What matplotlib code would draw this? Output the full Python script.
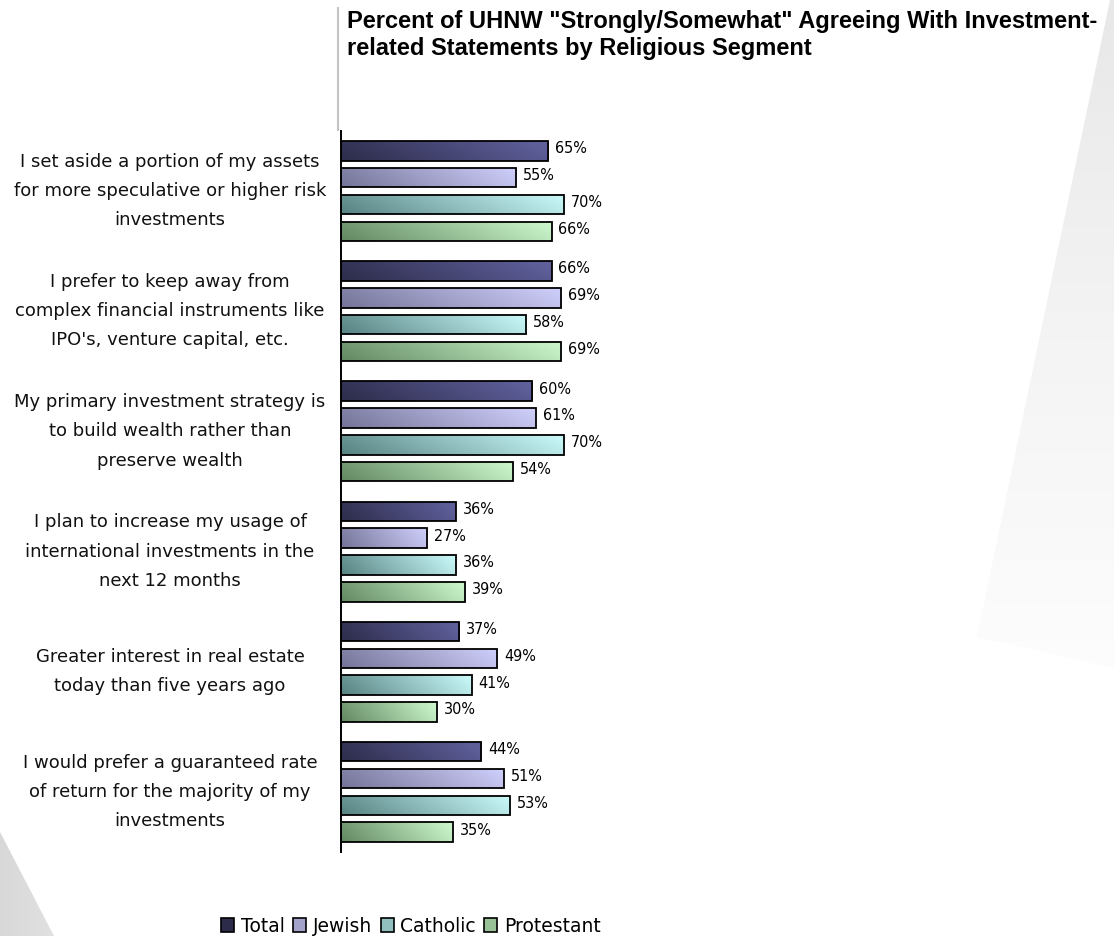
import numpy as np
import matplotlib
matplotlib.use("Agg")
import matplotlib.pyplot as plt
from matplotlib.patches import Rectangle, Polygon, Patch
from matplotlib.colors import LinearSegmentedColormap, to_rgb
from matplotlib import font_manager
import matplotlib.transforms as mtransforms

# ---- data ----
statements = [
    "I set aside a portion of my assets\nfor more speculative or higher risk\ninvestments",
    "I prefer to keep away from\ncomplex financial instruments like\nIPO's, venture capital, etc.",
    "My primary investment strategy is\nto build wealth rather than\npreserve wealth",
    "I plan to increase my usage of\ninternational investments in the\nnext 12 months",
    "Greater interest in real estate\ntoday than five years ago",
    "I would prefer a guaranteed rate\nof return for the majority of my\ninvestments",
]
segments = ["Total", "Jewish", "Catholic", "Protestant"]
total = [65, 66, 60, 36, 37, 44]
jewish = [55, 69, 61, 27, 49, 51]
catholic = [70, 58, 70, 36, 41, 53]
protestant = [66, 69, 54, 39, 30, 35]
series = [total, jewish, catholic, protestant]

title = ('Percent of UHNW "Strongly/Somewhat" Agreeing With Investment-\n'
         'related Statements by Religious Segment')

# gradient end colours (shadow side, lit side) for each segment
grad_colors = [
    ("#2c2c4a", "#6262a0"),
    ("#747498", "#d0d0fd"),
    ("#578282", "#cbfbfb"),
    ("#628862", "#cef9ce"),
]


def bold_sans_props(size):
    """Regular-width bold Liberation Sans (avoid the Narrow cut)."""
    for f in font_manager.fontManager.ttflist:
        if (f.name == "Liberation Sans" and f.weight in (700, "bold")
                and f.style == "normal" and "Narrow" not in f.fname):
            return font_manager.FontProperties(fname=f.fname, size=size)
    return font_manager.FontProperties(family="DejaVu Sans", weight="bold",
                                       size=size * 0.93)


W, H, DPI = 1114, 936, 100
fig = plt.figure(figsize=(W / DPI, H / DPI), dpi=DPI)
fig.patch.set_facecolor("white")

# ---- decorative background wedges ----
bg = fig.add_axes([0, 0, 1, 1], zorder=-5)
bg.set_xlim(0, W)
bg.set_ylim(H, 0)
bg.axis("off")

yy = np.linspace(0, 1, 256)[:, None] * np.ones((1, 4))
right_cmap = LinearSegmentedColormap.from_list("rw", ["#e8e8e8", "#f4f4f4", "#fdfdfd"])
im = bg.imshow(yy, cmap=right_cmap, extent=(960, W, 680, 0), aspect="auto",
               interpolation="bilinear", vmin=0, vmax=1)
wedge_r = Polygon([(1110, 0), (W, 0), (W, 668), (977, 637)], closed=True,
                  facecolor="none", edgecolor="none")
bg.add_patch(wedge_r)
im.set_clip_path(wedge_r)

xx = np.linspace(0, 1, 256)[None, :] * np.ones((4, 1))
left_cmap = LinearSegmentedColormap.from_list("lw", ["#d8d8d8", "#e2e2e2"])
im2 = bg.imshow(xx, cmap=left_cmap, extent=(0, 60, H, 830), aspect="auto",
                interpolation="bilinear", vmin=0, vmax=1)
wedge_l = Polygon([(0, 832), (54, H), (0, H)], closed=True,
                  facecolor="none", edgecolor="none")
bg.add_patch(wedge_l)
im2.set_clip_path(wedge_l)

# thin grey rule beside the title
bg.plot([337.5, 337.5], [7, 131], color="#c4c4c4", lw=1.5, solid_capstyle="butt")

# ---- main bar axes ----
ax = fig.add_axes([341 / W, 1 - 852 / H, 319 / W, 721 / H])
ax.set_facecolor("none")
n = len(statements)
for s in ("top", "right", "bottom"):
    ax.spines[s].set_visible(False)
ax.spines["left"].set_linewidth(1.4)
ax.spines["left"].set_color("black")
ax.set_xticks([])
ax.set_yticks([])

step = 0.223
bar_h = 0.162
offsets = (np.arange(4) - 1.5) * step

# gradient image: mostly left-to-right, with a slight vertical lift
gx = np.linspace(0, 1, 200)[None, :]
gy = np.linspace(0, 1, 20)[:, None]
grad = np.clip(0.85 * gx + 0.15 * (1 - gy), 0, 1)

for si, (vals, (c0, c1)) in enumerate(zip(series, grad_colors)):
    cmap = LinearSegmentedColormap.from_list(f"g{si}", [c0, c1])
    for ci, v in enumerate(vals):
        yc = ci + offsets[si]
        y0, y1 = yc - bar_h / 2, yc + bar_h / 2
        img = ax.imshow(grad, cmap=cmap, extent=(0, v, y1, y0), aspect="auto",
                        interpolation="bilinear", vmin=0, vmax=1, zorder=2)
        rect = Rectangle((0, y0), v, bar_h, facecolor="none",
                         edgecolor="black", lw=1.3, zorder=3)
        ax.add_patch(rect)
        img.set_clip_path(rect)
        ax.annotate(f"{v}%", xy=(v, yc), xytext=(5, 1.5),
                    textcoords="offset points", ha="left", va="center",
                    fontsize=11.5, family="DejaVu Sans", fontstretch="condensed",
                    color="black")
ax.set_xlim(0, 100)
ax.set_ylim(n - 0.5, -0.5)

# statement labels, centred in the left margin
trans = mtransforms.blended_transform_factory(fig.transFigure, ax.transData)
for ci, lab in enumerate(statements):
    ax.text(170 / W, ci, lab, transform=trans, ha="center", va="center",
            multialignment="center", fontsize=13, family="DejaVu Sans",
            color="#111111", linespacing=1.8)

# title (baseline of the second line)
fig.text(347 / W, 1 - 55 / H, title, ha="left", va="baseline",
         fontproperties=bold_sans_props(17), color="black", linespacing=1.22)

# legend
handles = [Patch(facecolor=np.mean([to_rgb(c0), to_rgb(c1)], axis=0) if i else c0,
                 edgecolor="black", lw=1.2, label=segments[i])
           for i, (c0, c1) in enumerate(grad_colors)]
fig.legend(handles=handles, loc="center", bbox_to_anchor=(411 / W, 1 - 926 / H),
           ncol=4, frameon=False, handlelength=0.7,
           handleheight=0.7, handletextpad=0.35, columnspacing=0.45,
           prop={"family": "DejaVu Sans", "size": 13.5})

fig.savefig("out.png", dpi=DPI, facecolor="white")
